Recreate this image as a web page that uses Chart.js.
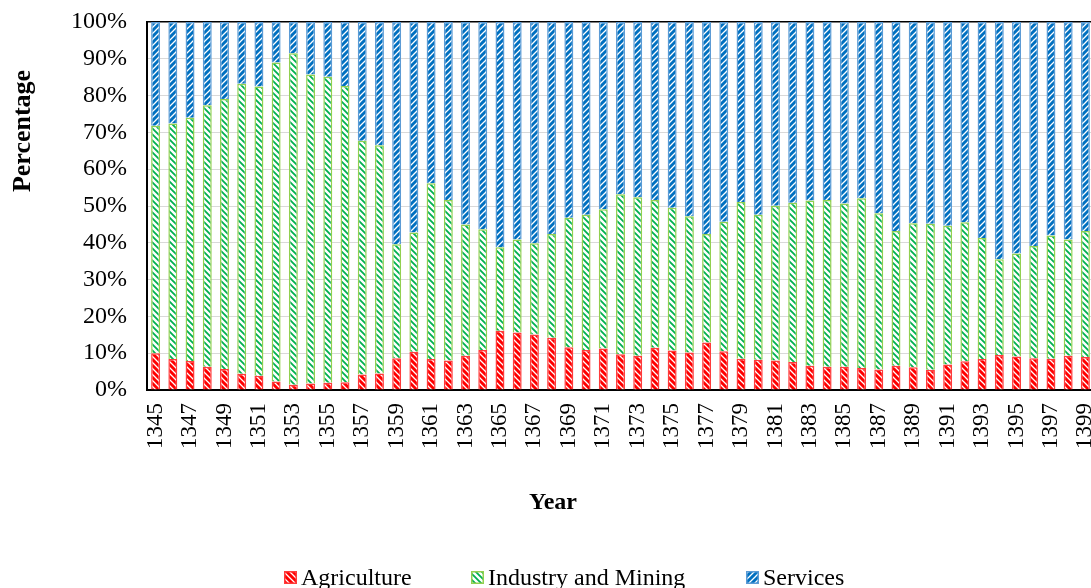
<!DOCTYPE html>
<html>
<head>
<meta charset="utf-8">
<title>Percentage by sector</title>
<script src="https://cdn.jsdelivr.net/npm/chart.js@4.4.1/dist/chart.umd.min.js"></script>
<style>
  html, body { margin: 0; padding: 0; background: #fff; overflow: hidden; }
  #wrap { width: 1094px; height: 588px; }
</style>
</head>
<body>
<div id="wrap"><canvas id="chart" width="1094" height="588"></canvas></div>
<script>
// ---- data (percent shares) ----
const years = [];
for (let y = 1345; y <= 1399; y++) years.push(String(y));

const agriculture = [
  10.0, 8.4, 7.9, 6.3, 5.7, 4.4, 3.9, 2.3, 1.4, 1.8,
  2.0, 2.1, 4.2, 4.5, 8.6, 10.4, 8.4, 8.0, 9.3, 10.9,
  16.1, 15.6, 15.1, 14.2, 11.6, 10.9, 11.3, 9.7, 9.3, 11.5,
  10.7, 10.2, 12.9, 10.5, 8.5, 8.2, 8.0, 7.6, 6.6, 6.3,
  6.3, 6.0, 5.6, 6.6, 6.2, 5.5, 6.9, 7.8, 8.4, 9.5,
  9.1, 8.6, 8.5, 9.3, 9.0
];
const industry = [
  61.8, 64.0, 66.1, 71.1, 73.4, 78.8, 78.6, 86.7, 90.1, 83.9,
  83.1, 80.5, 63.5, 62.0, 31.0, 32.4, 47.8, 43.6, 35.7, 32.8,
  22.7, 25.3, 24.8, 28.2, 35.2, 36.7, 37.8, 43.5, 43.1, 40.1,
  38.8, 37.0, 29.5, 35.2, 42.6, 39.4, 42.1, 43.3, 44.9, 45.3,
  44.4, 46.1, 42.4, 36.6, 39.1, 39.7, 37.7, 37.8, 32.9, 26.0,
  28.0, 30.5, 33.5, 31.6, 34.2
];
const services = [
  28.2, 27.6, 26.0, 22.6, 20.9, 16.8, 17.5, 11.0, 8.5, 14.3,
  14.9, 17.4, 32.3, 33.5, 60.4, 57.2, 43.8, 48.4, 55.0, 56.3,
  61.2, 59.1, 60.1, 57.6, 53.2, 52.4, 50.9, 46.8, 47.6, 48.4,
  50.5, 52.8, 57.6, 54.3, 48.9, 52.4, 49.9, 49.1, 48.5, 48.4,
  49.3, 47.9, 52.0, 56.8, 54.7, 54.8, 55.4, 54.4, 58.7, 64.5,
  62.9, 60.9, 58.0, 59.1, 56.8
];
const yTicks = [0, 10, 20, 30, 40, 50, 60, 70, 80, 90, 100];

const SERIF = '"Liberation Serif", "Times New Roman", serif';

// hatch fill like the excel patterns
const canvas = document.getElementById('chart');
const ctx = canvas.getContext('2d');

function makeHatch(bg, fg, dir, lw) {
  const s = 6;
  const c = document.createElement('canvas');
  c.width = s; c.height = s;
  const g = c.getContext('2d');
  g.fillStyle = bg;
  g.fillRect(0, 0, s, s);
  g.strokeStyle = fg;
  g.lineWidth = lw;
  g.beginPath();
  for (let k = -s; k <= s; k += s) {
    if (dir === '/') { g.moveTo(k - 1, s + 1); g.lineTo(k + s + 1, -1); }
    else { g.moveTo(k - 1, -1); g.lineTo(k + s + 1, s + 1); }
  }
  g.stroke();
  return ctx.createPattern(c, 'repeat');
}

const agriFill = makeHatch('#FF0000', '#FFFFFF', '\\', 1.3);
const indFill = makeHatch('#FFFFFF', '#00B050', '\\', 1.8);
const servFill = makeHatch('#0070C0', '#FFFFFF', '/', 1.3);

// no extra label padding, the plot box sits where excel put it
function noPad(scale) {
  scale.paddingTop = 0;
  scale.paddingBottom = 0;
  scale.paddingLeft = 0;
  scale.paddingRight = 0;
}

// titles + legend drawn by hand (excel places them off-centre)
const extras = {
  id: 'extras',
  afterDraw(chart) {
    const c = chart.ctx;
    c.save();
    c.fillStyle = '#000';
    c.textAlign = 'center';
    c.textBaseline = 'middle';
    c.font = 'bold 24px ' + SERIF;
    c.fillText('Year', 553, 503);
    c.font = 'bold 26px ' + SERIF;
    c.translate(23, 131);
    c.rotate(-Math.PI / 2);
    c.fillText('Percentage', 0, 0);
    c.restore();

    // legend
    const spots = [284, 471, 746];
    c.save();
    c.font = '24px ' + SERIF;
    c.textBaseline = 'alphabetic';
    c.textAlign = 'left';
    chart.data.datasets.forEach((ds, i) => {
      const x = spots[i];
      c.fillStyle = ds.backgroundColor;
      c.fillRect(x, 571, 13, 13);
      c.strokeStyle = ds.borderColor;
      c.lineWidth = 1.5;
      c.strokeRect(x + 0.75, 571.75, 11.5, 11.5);
      c.fillStyle = '#000';
      c.fillText(ds.label, x + 17, 585);
    });
    c.restore();
  }
};

new Chart(ctx, {
  type: 'bar',
  data: {
    labels: years,
    datasets: [
      { label: 'Agriculture', data: agriculture, backgroundColor: agriFill, borderColor: '#FF3B3B', borderWidth: 1.5 },
      { label: 'Industry and Mining', data: industry, backgroundColor: indFill, borderColor: '#92D050', borderWidth: 1.5 },
      { label: 'Services', data: services, backgroundColor: servFill, borderColor: '#5B9BD5', borderWidth: 1.5 }
    ]
  },
  options: {
    responsive: false,
    animation: false,
    devicePixelRatio: 1,
    layout: { padding: { top: 22, left: 0, right: 0, bottom: 0 } },
    datasets: { bar: { barPercentage: 0.52, categoryPercentage: 1 } },
    plugins: {
      legend: { display: false },
      tooltip: { enabled: false }
    },
    scales: {
      x: {
        stacked: true,
        grid: { display: false, drawTicks: false },
        border: { display: true, color: '#000', width: 2 },
        ticks: {
          autoSkip: false,
          minRotation: 90,
          maxRotation: 90,
          padding: 13,
          color: '#000',
          font: { family: SERIF, size: 23 },
          callback: (v, i) => (i % 2 === 0 ? years[i] : '')
        },
        afterFit: (scale) => { scale.height = 198; noPad(scale); }
      },
      y: {
        stacked: true,
        min: 0,
        max: 100,
        afterBuildTicks: (scale) => { scale.ticks = yTicks.map(v => ({ value: v })); },
        grid: {
          drawTicks: false,
          color: (c) => (c.tick && c.tick.value === 100 ? '#000' : '#D9D9D9'),
          lineWidth: (c) => (c.tick && c.tick.value === 100 ? 1.5 : 1)
        },
        border: { display: true, color: '#000', width: 2 },
        ticks: {
          padding: 20,
          color: '#000',
          font: { family: SERIF, size: 24 },
          callback: (v) => v + '%'
        },
        afterFit: (scale) => { scale.width = 147; noPad(scale); }
      }
    }
  },
  plugins: [extras]
});
</script>
</body>
</html>
